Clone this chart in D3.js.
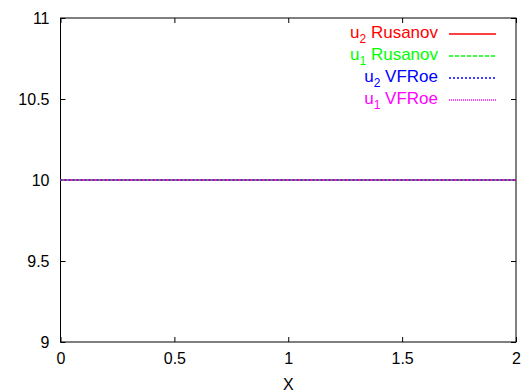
<!DOCTYPE html>
<html><head><meta charset="utf-8">
<script src="https://cdn.jsdelivr.net/npm/d3@7"></script>
<style>body{margin:0;background:#fff}svg{display:block}text{font-family:"Liberation Sans",Arial,sans-serif}</style>
</head><body>
<script>
// Data
const xValues = [0, 0.25, 0.5, 0.75, 1, 1.25, 1.5, 1.75, 2];
const u2Rusanov = [10, 10, 10, 10, 10, 10, 10, 10, 10];
const u1Rusanov = [10, 10, 10, 10, 10, 10, 10, 10, 10];
const u2VFRoe   = [10, 10, 10, 10, 10, 10, 10, 10, 10];
const u1VFRoe   = [10, 10, 10, 10, 10, 10, 10, 10, 10];
const xTicks = [0, 0.5, 1, 1.5, 2];
const yTicks = [9, 9.5, 10, 10.5, 11];
const seriesNames = [["u","2"," Rusanov"],["u","1"," Rusanov"],["u","2"," VFRoe"],["u","1"," VFRoe"]];
const seriesValues = [u2Rusanov, u1Rusanov, u2VFRoe, u1VFRoe];
const seriesColors = ["#ff0000","#00ff00","#0000ff","#ff00ff"];
const seriesDash = [null, "4,2", "2,2", "1,1"];

const W = 525, H = 392;
const m = {left: 60.5, right: 516, top: 18, bottom: 342};
const svg = d3.select("body").append("svg").attr("width", W).attr("height", H);
const x = d3.scaleLinear().domain([0, 2]).range([m.left, m.right]);
const y = d3.scaleLinear().domain([9, 11]).range([m.bottom, m.top]);

// frame
svg.append("rect").attr("x", m.left).attr("y", m.top)
  .attr("width", m.right - m.left).attr("height", m.bottom - m.top)
  .attr("fill", "none").attr("stroke", "#000").attr("stroke-width", 1);

const fs = 16;
const xb = svg.append("g").attr("transform", `translate(0,${m.bottom})`)
  .call(d3.axisBottom(x).tickValues(xTicks).tickFormat(d3.format("")).tickSizeInner(-5).tickSizeOuter(0).tickPadding(11));
const xt = svg.append("g").attr("transform", `translate(0,${m.top})`)
  .call(d3.axisTop(x).tickValues(xTicks).tickFormat("").tickSizeInner(-5).tickSizeOuter(0));
const yl = svg.append("g").attr("transform", `translate(${m.left},0)`)
  .call(d3.axisLeft(y).tickValues(yTicks).tickFormat(d3.format("")).tickSizeInner(-5).tickSizeOuter(0).tickPadding(11));
const yr = svg.append("g").attr("transform", `translate(${m.right},0)`)
  .call(d3.axisRight(y).tickValues(yTicks).tickFormat("").tickSizeInner(-5).tickSizeOuter(0));
[xb, xt, yl, yr].forEach(g => {
  g.select(".domain").remove();
  g.selectAll("line").attr("stroke", "#000");
  g.selectAll("text").attr("font-size", fs).attr("fill", "#000").attr("font-family", '"Liberation Sans",Arial,sans-serif');
});

svg.append("text").attr("x", (m.left + m.right) / 2).attr("y", 390)
  .attr("text-anchor", "middle").attr("font-size", fs).text("X");

// lines
const line = d3.line().x((d, i) => x(xValues[i])).y(d => y(d));
seriesValues.forEach((vals, k) => {
  svg.append("path").datum(vals).attr("d", line).attr("fill", "none")
    .attr("stroke", seriesColors[k]).attr("stroke-width", 1.3)
    .attr("stroke-dasharray", seriesDash[k]);
});

// legend
const legY = [38, 60, 82, 104];
seriesNames.forEach((nm, k) => {
  const t = svg.append("text").attr("x", 438).attr("y", legY[k]).attr("text-anchor", "end")
    .attr("font-size", 17).attr("fill", seriesColors[k]);
  t.append("tspan").text(nm[0]);
  t.append("tspan").attr("dy", 5).attr("font-size", 12).text(nm[1]);
  t.append("tspan").attr("dy", -5).text(nm[2]);
  svg.append("line").attr("x1", 449).attr("x2", 496).attr("y1", legY[k] - 4).attr("y2", legY[k] - 4)
    .attr("stroke", seriesColors[k]).attr("stroke-width", 1.3).attr("stroke-dasharray", seriesDash[k]);
});
</script>
</body></html>
